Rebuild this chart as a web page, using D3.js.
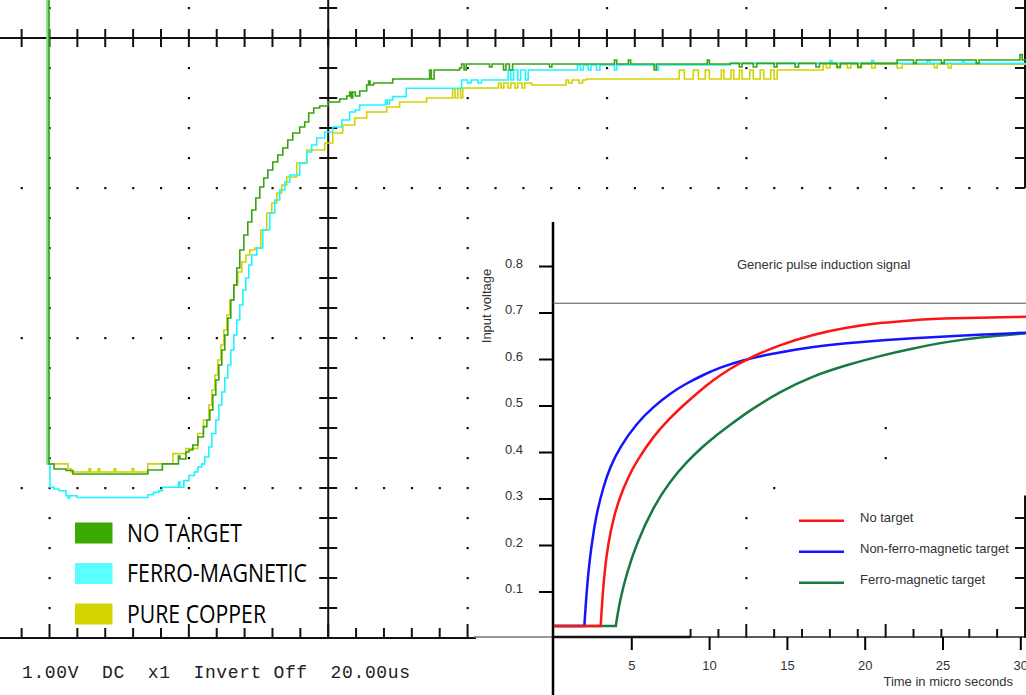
<!DOCTYPE html>
<html>
<head>
<meta charset="utf-8">
<script src="https://cdn.jsdelivr.net/npm/d3@7"></script>
<style>
body { margin: 0; background: #fff; }
svg { display: block; }
</style>
</head>
<body>
<svg id="chart" width="1026" height="695"></svg>
<script>
// scope traces, [time in us, volts]
var SCOPE_NO_TARGET = [[-0.2,2.3],[-0.07,-0.84],[0.65,-0.873],[2.37,-0.883],[3.37,-0.907],[14.12,-0.88],[16.2,-0.839],[18.51,-0.787],[18.71,-0.807],[19.57,-0.76],[20.0,-0.747],[20.57,-0.713],[21.29,-0.66],[22.09,-0.591],[22.58,-0.547],[23.01,-0.48],[23.44,-0.38],[23.87,-0.28],[24.3,-0.18],[24.73,-0.08],[25.16,0.02],[25.59,0.133],[26.02,0.253],[26.45,0.353],[26.88,0.467],[27.31,0.587],[27.89,0.687],[28.46,0.773],[29.03,0.853],[29.61,0.933],[30.18,1.007],[30.75,1.067],[31.33,1.12],[32.04,1.173],[32.76,1.22],[33.48,1.267],[34.19,1.32],[34.91,1.367],[35.91,1.407],[36.63,1.44],[37.2,1.5],[37.92,1.533],[38.78,1.547],[39.93,1.573],[41.65,1.593],[42.65,1.613],[43.08,1.64],[43.3,1.6],[43.51,1.64],[43.89,1.613],[44.52,1.647],[45.52,1.687],[45.8,1.713],[46.0,1.687],[46.52,1.7],[49.25,1.727],[54.55,1.787],[54.8,1.727],[55.2,1.787],[58.85,1.8],[59.14,1.827],[59.5,1.787],[59.8,1.827],[63.15,1.807],[63.5,1.827],[65.16,1.787],[65.5,1.827],[66.0,1.787],[66.45,1.827],[71.76,1.807],[72.1,1.827],[81.08,1.853],[81.4,1.827],[83.08,1.853],[83.4,1.827],[86.77,1.787],[87.1,1.827],[94.41,1.853],[94.7,1.827],[97.71,1.831],[99.0,1.807],[99.4,1.831],[101.0,1.807],[101.5,1.831],[104.0,1.807],[104.4,1.831],[107.0,1.807],[107.5,1.831],[110.0,1.807],[110.5,1.831],[113.0,1.807],[113.5,1.831],[116.0,1.807],[116.5,1.831],[121.65,1.853],[124.0,1.831],[124.4,1.853],[128.0,1.831],[128.4,1.853],[133.0,1.831],[133.4,1.853],[139.28,1.89],[139.6,1.853],[140.5,1.853]];

var SCOPE_FERRO = [[-0.35,2.3],[-0.22,-0.839],[0.07,-0.995],[0.65,-1.007],[1.36,-1.018],[2.37,-1.052],[2.65,-1.067],[2.9,-1.052],[3.94,-1.063],[14.12,-1.045],[14.92,-1.029],[15.7,-1.018],[16.2,-0.995],[18.51,-0.96],[18.71,-0.995],[19.28,-0.951],[20.0,-0.917],[20.8,-0.893],[21.29,-0.86],[21.86,-0.839],[22.29,-0.793],[22.87,-0.727],[23.3,-0.637],[23.87,-0.547],[24.3,-0.447],[24.73,-0.36],[25.16,-0.267],[25.59,-0.18],[26.02,-0.08],[26.45,0.02],[26.88,0.12],[27.31,0.22],[27.74,0.32],[28.17,0.4],[28.6,0.487],[29.03,0.553],[29.75,0.6],[30.61,0.72],[31.61,0.833],[32.33,0.92],[33.05,0.987],[33.76,1.04],[34.48,1.087],[35.91,1.167],[36.92,1.24],[37.63,1.287],[38.35,1.333],[39.5,1.373],[40.65,1.407],[41.94,1.453],[43.08,1.507],[43.89,1.52],[44.52,1.553],[48.24,1.587],[48.5,1.56],[48.8,1.587],[49.25,1.609],[51.2,1.665],[59.14,1.72],[60.0,1.7],[60.5,1.72],[61.5,1.7],[62.0,1.72],[65.82,1.787],[66.2,1.72],[66.6,1.787],[67.2,1.72],[67.6,1.787],[68.3,1.72],[68.7,1.787],[75.77,1.82],[76.2,1.787],[76.6,1.82],[77.3,1.787],[77.7,1.82],[78.5,1.787],[79.0,1.82],[81.08,1.787],[81.4,1.82],[87.1,1.787],[87.4,1.82],[97.71,1.831],[112.0,1.85],[112.3,1.831],[118.0,1.85],[118.3,1.831],[126.0,1.85],[126.3,1.831],[131.0,1.85],[131.3,1.831],[140.5,1.831]];

var SCOPE_COPPER = [[-0.5,2.3],[-0.36,-0.839],[2.37,-0.839],[2.65,-0.872],[3.08,-0.893],[5.66,-0.872],[5.9,-0.893],[6.95,-0.872],[7.2,-0.893],[9.25,-0.872],[9.5,-0.893],[11.83,-0.872],[12.1,-0.893],[14.12,-0.839],[17.71,-0.771],[19.57,-0.737],[21.29,-0.637],[22.09,-0.547],[22.87,-0.447],[23.3,-0.347],[23.73,-0.247],[24.16,-0.147],[24.59,-0.047],[25.02,0.053],[25.45,0.153],[25.88,0.253],[26.45,0.353],[27.02,0.44],[27.6,0.507],[28.17,0.553],[28.75,0.587],[29.46,0.6],[30.32,0.72],[31.18,0.833],[31.9,0.9],[32.62,0.967],[33.33,1.02],[34.05,1.073],[35.48,1.167],[36.92,1.253],[39.5,1.3],[40.65,1.367],[42.08,1.42],[43.8,1.467],[45.52,1.507],[48.39,1.54],[50.25,1.573],[54.12,1.6],[57.85,1.66],[58.2,1.6],[58.6,1.66],[59.0,1.6],[59.3,1.667],[64.44,1.7],[64.8,1.667],[65.2,1.7],[65.8,1.667],[66.2,1.7],[66.8,1.667],[67.2,1.7],[67.8,1.667],[68.2,1.7],[69.18,1.687],[74.14,1.72],[74.5,1.7],[75.0,1.72],[76.0,1.7],[76.5,1.72],[77.06,1.727],[90.39,1.787],[91.11,1.727],[92.4,1.787],[93.12,1.727],[94.12,1.787],[94.7,1.727],[96.42,1.787],[96.8,1.727],[97.8,1.787],[98.2,1.727],[99.0,1.787],[99.4,1.727],[100.5,1.787],[101.0,1.727],[102.0,1.787],[102.5,1.727],[103.5,1.787],[104.0,1.727],[104.44,1.787],[111.04,1.825],[111.5,1.8],[112.0,1.825],[113.0,1.8],[113.5,1.825],[114.5,1.8],[115.0,1.825],[116.0,1.8],[116.5,1.825],[118.0,1.8],[118.5,1.825],[121.65,1.8],[122.37,1.825],[127.0,1.8],[127.4,1.825],[129.0,1.8],[129.4,1.825],[140.5,1.825]];

var SCOPE_LABELS = ["NO TARGET", "FERRO-MAGNETIC", "PURE COPPER"];
var SCOPE_COLORS = ["#3aaa00", "#5cffff", "#d4d400"];
var SCOPE_TRACE_COLORS = ["#38a214", "#1ef4ff", "#d2d200"];
var SCOPE_STATUS = "1.00V  DC  x1  Invert Off  20.00us";

// inset chart, [time in micro seconds, input voltage]
var PI_NO_TARGET = [[0,0.027],[3.0,0.027],[3.1,0.083],[3.28,0.154],[3.49,0.205],[3.81,0.258],[4.24,0.305],[4.78,0.348],[5.31,0.381],[6.38,0.435],[7.46,0.474],[8.1,0.495],[9.17,0.527],[10.24,0.556],[11.31,0.58],[12.38,0.601],[14.52,0.632],[16.66,0.654],[18.81,0.669],[20.95,0.679],[23.09,0.685],[25.24,0.689],[30.5,0.692]];
var PI_NON_FERRO = [[0,0.027],[1.95,0.027],[2.1,0.104],[2.31,0.176],[2.53,0.226],[2.74,0.269],[3.17,0.326],[3.6,0.369],[4.24,0.412],[5.31,0.463],[6.38,0.498],[7.46,0.527],[8.53,0.549],[9.6,0.567],[10.67,0.583],[12.17,0.599],[13.88,0.612],[16.66,0.628],[18.81,0.635],[20.95,0.641],[23.09,0.646],[25.24,0.65],[30.5,0.658]];
var PI_FERRO = [[0,0.027],[3.97,0.027],[4.24,0.083],[4.67,0.14],[5.31,0.205],[6.38,0.283],[7.46,0.338],[8.53,0.38],[9.6,0.414],[10.24,0.432],[11.31,0.459],[12.38,0.486],[14.52,0.531],[16.66,0.565],[18.81,0.588],[20.95,0.608],[23.09,0.624],[25.24,0.638],[27.38,0.648],[30.5,0.657]];
var PI_LABELS = ["No target", "Non-ferro-magnetic target", "Ferro-magnetic target"];
var PI_COLORS = ["#ff1414", "#1414ff", "#177a42"];
var PI_TIME_TICKS = [5, 10, 15, 20, 25, 30];
var PI_VOLT_TICKS = [0.1, 0.2, 0.3, 0.4, 0.5, 0.6, 0.7, 0.8];
var PI_LEVEL = 0.721;

var svg = d3.select("#chart");
svg.append("rect").attr("width", 1026).attr("height", 695).attr("fill", "#fff");

// ---------- scope ----------
var sx = d3.scaleLinear().domain([0, 140]).range([49.5, 1025]);
var sy = d3.scaleLinear().domain([-2, 2]).range([638, 38]);
var minorT = d3.range(-4, 141, 4);
var minorV = d3.range(-9, 12).map(function(i) { return +(i * 0.2).toFixed(1); });

function hidden(t, v) { return sx(t) > 476 && sy(v) > 190; }

var dots = [];
[1, 0, -1].forEach(function(v) {
  minorT.forEach(function(t) { if (t !== 40 && t !== 140) dots.push([t, v]); });
});
[0, 20, 60, 80, 100, 120].forEach(function(t) {
  minorV.forEach(function(v) { if (v !== 2 && v !== 1 && v !== 0 && v !== -1) dots.push([t, v]); });
});
dots = dots.filter(function(d) { return !hidden(d[0], d[1]); });

var grid = svg.append("g");
grid.selectAll("rect.dot").data(dots).enter().append("rect")
  .attr("x", function(d) { return sx(d[0]) - 1; })
  .attr("y", function(d) { return sy(d[1]) - 1; })
  .attr("width", 2.2).attr("height", 2.2).attr("fill", "#111");

// solid graticule lines
grid.append("line").attr("x1", 0).attr("x2", 1026).attr("y1", sy(2)).attr("y2", sy(2))
  .attr("stroke", "#111").attr("stroke-width", 2);
grid.append("line").attr("x1", sx(40)).attr("x2", sx(40)).attr("y1", 0).attr("y2", sy(-2))
  .attr("stroke", "#111").attr("stroke-width", 2);
grid.append("line").attr("x1", 0).attr("x2", 1026).attr("y1", sy(-2)).attr("y2", sy(-2))
  .attr("stroke", "#111").attr("stroke-width", 2);
grid.append("line").attr("x1", sx(140)).attr("x2", sx(140)).attr("y1", 0).attr("y2", sy(1))
  .attr("stroke", "#111").attr("stroke-width", 2);

grid.selectAll("line.ttop").data(minorT).enter().append("line")
  .attr("x1", function(t) { return sx(t); }).attr("x2", function(t) { return sx(t); })
  .attr("y1", sy(2) - 9).attr("y2", sy(2) + 9).attr("stroke", "#111").attr("stroke-width", 2);
grid.selectAll("line.tmid").data(minorV.filter(function(v) { return v > -2; })).enter().append("line")
  .attr("y1", function(v) { return sy(v); }).attr("y2", function(v) { return sy(v); })
  .attr("x1", sx(40) - 9).attr("x2", sx(40) + 9).attr("stroke", "#111").attr("stroke-width", 2);
grid.selectAll("line.tbot").data(minorT.filter(function(t) { return sx(t) < 476; })).enter().append("line")
  .attr("x1", function(t) { return sx(t); }).attr("x2", function(t) { return sx(t); })
  .attr("y1", function(t) { return sy(-2) - (t % 20 === 0 ? 14 : 10); }).attr("y2", sy(-2))
  .attr("stroke", "#111").attr("stroke-width", 2);
grid.selectAll("line.tright").data(minorV.filter(function(v) { return v >= 1; })).enter().append("line")
  .attr("y1", function(v) { return sy(v); }).attr("y2", function(v) { return sy(v); })
  .attr("x1", sx(140) - 10).attr("x2", sx(140)).attr("stroke", "#111").attr("stroke-width", 2);

var trace = d3.line().x(function(d) { return sx(d[0]); }).y(function(d) { return sy(d[1]); })
  .curve(d3.curveStepAfter);
[SCOPE_COPPER, SCOPE_FERRO, SCOPE_NO_TARGET].forEach(function(s, i) {
  svg.append("path").attr("d", trace(s)).attr("fill", "none")
    .attr("stroke", SCOPE_TRACE_COLORS[2 - i]).attr("stroke-width", 1.6);
});

// scope legend
var legendWidths = [115, 180, 139];
SCOPE_LABELS.forEach(function(label, i) {
  var y = 522.5 + i * 40.5;
  svg.append("rect").attr("x", 75).attr("y", y).attr("width", 37.5).attr("height", 21)
    .attr("fill", SCOPE_COLORS[i]);
  svg.append("text").attr("x", 127).attr("y", y + 19)
    .attr("font-family", "'Liberation Sans Narrow', 'Open Sans', sans-serif")
    .attr("font-size", 26).attr("fill", "#000")
    .attr("textLength", legendWidths[i]).attr("lengthAdjust", "spacingAndGlyphs")
    .text(label);
});

svg.append("text").attr("x", 22).attr("y", 678)
  .attr("font-family", "'Liberation Mono', monospace").attr("font-size", 18)
  .attr("fill", "#222").style("white-space", "pre")
  .attr("textLength", 388).attr("lengthAdjust", "spacing")
  .text(SCOPE_STATUS);

// ---------- inset ----------
var inset = svg.append("g");
inset.append("rect").attr("x", 476).attr("y", 190).attr("width", 550).attr("height", 505).attr("fill", "#fff");

var px = d3.scaleLinear().domain([0, 30]).range([554, 1020.8]);
var py = d3.scaleLinear().domain([0, 0.8]).range([638.5, 266.5]);

// parts of the scope graticule that show through the inset
var showThrough = [[100, -1.2], [100, -1.4], [100, -1.6], [100, -1.8], [120, -0.6], [120, -0.8], [104, -1]];
inset.selectAll("rect.dot").data(showThrough).enter().append("rect")
  .attr("x", function(d) { return sx(d[0]) - 1; })
  .attr("y", function(d) { return sy(d[1]) - 1; })
  .attr("width", 2.2).attr("height", 2.2).attr("fill", "#111");
inset.append("line").attr("x1", sx(140)).attr("x2", sx(140)).attr("y1", sy(-1.05)).attr("y2", sy(-2))
  .attr("stroke", "#111").attr("stroke-width", 2);
inset.selectAll("line.tright").data([-1.2, -1.4, -1.6, -1.8]).enter().append("line")
  .attr("y1", function(v) { return sy(v); }).attr("y2", function(v) { return sy(v); })
  .attr("x1", sx(140) - 10).attr("x2", sx(140)).attr("stroke", "#111").attr("stroke-width", 2);
inset.selectAll("line.tbot").data(minorT.filter(function(t) { return sx(t) > 688; })).enter().append("line")
  .attr("x1", function(t) { return sx(t); }).attr("x2", function(t) { return sx(t); })
  .attr("y1", function(t) { return sy(-2) - (t % 20 === 0 ? 14 : 9); }).attr("y2", sy(-2))
  .attr("stroke", "#111").attr("stroke-width", 2);

// axes
inset.append("line").attr("x1", 474).attr("x2", px(0)).attr("y1", 637).attr("y2", 637)
  .attr("stroke", "#777").attr("stroke-width", 1.5);
inset.append("line").attr("x1", px(0)).attr("x2", 690).attr("y1", 637).attr("y2", 637)
  .attr("stroke", "#111").attr("stroke-width", 2.5);
inset.append("line").attr("x1", 690).attr("x2", 1026).attr("y1", 637).attr("y2", 637)
  .attr("stroke", "#222").attr("stroke-width", 1.5);
inset.append("line").attr("x1", 553).attr("x2", 553).attr("y1", 222).attr("y2", 695)
  .attr("stroke", "#000").attr("stroke-width", 2.5);

var font = "'Liberation Sans', Arial, sans-serif";
inset.selectAll("line.xt").data(PI_TIME_TICKS).enter().append("line")
  .attr("x1", function(t) { return px(t); }).attr("x2", function(t) { return px(t); })
  .attr("y1", 637).attr("y2", 650).attr("stroke", "#000").attr("stroke-width", 2);
inset.selectAll("text.xt").data(PI_TIME_TICKS).enter().append("text")
  .attr("x", function(t) { return px(t); }).attr("y", 670)
  .attr("text-anchor", "middle").attr("font-family", font).attr("font-size", 13).attr("fill", "#333")
  .text(function(t) { return t; });
inset.selectAll("line.yt").data(PI_VOLT_TICKS).enter().append("line")
  .attr("y1", function(v) { return py(v); }).attr("y2", function(v) { return py(v); })
  .attr("x1", 539).attr("x2", 553).attr("stroke", "#000").attr("stroke-width", 2);
inset.selectAll("text.yt").data(PI_VOLT_TICKS).enter().append("text")
  .attr("x", 523).attr("y", function(v) { return py(v) + 1; })
  .attr("text-anchor", "end").attr("font-family", font).attr("font-size", 13).attr("fill", "#333")
  .text(function(v) { return v.toFixed(1); });

inset.append("text").attr("x", 1013).attr("y", 686).attr("text-anchor", "end")
  .attr("font-family", font).attr("font-size", 13).attr("fill", "#333")
  .text("Time in micro seconds");
inset.append("text").attr("transform", "translate(491,306) rotate(-90)").attr("text-anchor", "middle")
  .attr("font-family", font).attr("font-size", 13).attr("fill", "#333")
  .text("Input voltage");
inset.append("text").attr("x", 737).attr("y", 269)
  .attr("font-family", font).attr("font-size", 13).attr("fill", "#333")
  .text("Generic pulse induction signal");

inset.append("line").attr("x1", 553).attr("x2", 1026).attr("y1", py(PI_LEVEL)).attr("y2", py(PI_LEVEL))
  .attr("stroke", "#555").attr("stroke-width", 1);

// flat part straight, the decay smoothed from the corner on
var flat = d3.line().x(function(d) { return px(d[0]); }).y(function(d) { return py(d[1]); });
var curve = d3.line().x(function(d) { return px(d[0]); }).y(function(d) { return py(d[1]); })
  .curve(d3.curveBasis);
[PI_FERRO, PI_NON_FERRO, PI_NO_TARGET].forEach(function(s, i) {
  var color = PI_COLORS[2 - i];
  inset.append("path").attr("d", flat(s.slice(0, 2)) + curve(s.slice(1)).replace(/^M/, "L"))
    .attr("fill", "none").attr("stroke", color).attr("stroke-width", 2.5)
    .attr("stroke-linejoin", "miter");
});

PI_LABELS.forEach(function(label, i) {
  var y = 520.7 + i * 31;
  inset.append("line").attr("x1", 799).attr("x2", 844).attr("y1", y).attr("y2", y)
    .attr("stroke", PI_COLORS[i]).attr("stroke-width", 2.5);
  inset.append("text").attr("x", 860).attr("y", y + 1)
    .attr("font-family", font).attr("font-size", 13).attr("fill", "#333")
    .text(label);
});
</script>
</body>
</html>
